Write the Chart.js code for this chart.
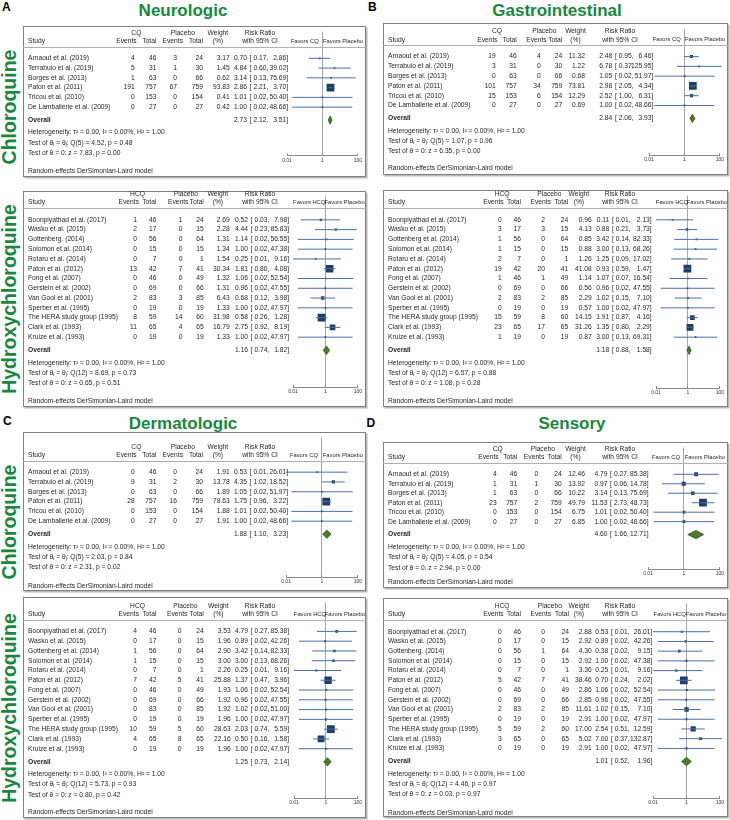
<!DOCTYPE html>
<html>
<head>
<meta charset="utf-8">
<title>CQ / HCQ adverse events</title>
<script src="https://cdn.jsdelivr.net/npm/chart.js@4.4.1/dist/chart.umd.min.js"></script>
<style>
  body { margin: 0; width: 730px; height: 820px; position: relative; overflow: hidden; background: #fff;
         font-family: "Liberation Sans", Arial, Helvetica, sans-serif; }
  .box { position: absolute; box-sizing: border-box; border: 1px solid #808080; box-shadow: 1.5px 1.5px 0 #b8b8b8; background: #fff; }
  canvas { position: absolute; }
  .title { position: absolute; font-size: 17px; line-height: 17px; font-weight: bold; color: #17893d; white-space: nowrap; transform: translateX(-50%); }
  .letter { position: absolute; font-size: 12px; line-height: 12px; font-weight: bold; color: #000; }
  .side { position: absolute; font-size: 19.5px; line-height: 20px; font-weight: bold; color: #17893d; white-space: nowrap; transform: translate(-50%, -50%) rotate(-90deg); }
</style>
</head>
<body>
<div class="letter" style="left:2px;top:1px">A</div>
<div class="letter" style="left:368px;top:0.5px">B</div>
<div class="letter" style="left:3px;top:415px">C</div>
<div class="letter" style="left:366.5px;top:416.5px">D</div>
<div class="title" style="left:183px;top:2.2px">Neurologic</div>
<div class="title" style="left:557px;top:2.2px">Gastrointestinal</div>
<div class="title" style="left:183px;top:415px">Dermatologic</div>
<div class="title" style="left:572px;top:415px">Sensory</div>
<div class="side" style="left:8.5px;top:107px">Chloroquine</div>
<div class="side" style="left:8.5px;top:299px">Hydroxychloroquine</div>
<div class="side" style="left:8.5px;top:522px">Chloroquine</div>
<div class="side" style="left:8.5px;top:707.5px">Hydroxychloroquine</div>
<script>
const FONT = '"Liberation Sans", Arial, Helvetica, sans-serif';
const TEXT = '#262626';

// studies and arm sizes
const cqStudies = ['Arnaout et al. (2019)', 'Terrabuio et al. (2019)', 'Borges et al. (2013)', 'Paton et al. (2011)', 'Tricou et al. (2010)', 'De Lamballerie et al. (2009)'];
const hcqStudiesA = ['Boonpiyathad et al. (2017)', 'Wasko et al. (2015)', 'Gottenberg. (2014)', 'Solomon et al. (2014)', 'Rotaru et al. (2014)', 'Paton et al. (2012)', 'Fong et al. (2007)', 'Gerstein et al. (2002)', 'Van Gool et al. (2001)', 'Sperber et al. (1995)', 'The HERA study group (1995)', 'Clark et al. (1993)', 'Kruize et al. (1993)'];
const hcqStudiesB = ['Boonpiyathad et al. (2017)', 'Wasko et al. (2015)', 'Gottenberg et al. (2014)', 'Solomon et al. (2014)', 'Rotaru et al. (2014)', 'Paton et al. (2012)', 'Fong et al. (2007)', 'Gerstein et al. (2002)', 'Van Gool et al. (2001)', 'Sperber et al. (1995)', 'The HERA study group (1995)', 'Clark et al. (1993)', 'Kruize et al. (1993)'];
const cqTotal = [46, 31, 63, 757, 153, 27];
const cqPlaceboTotal = [24, 30, 66, 759, 154, 27];
const hcqTotal = [46, 17, 56, 15, 7, 42, 46, 69, 83, 19, 59, 65, 19];
const hcqPlaceboTotal = [24, 15, 64, 15, 1, 41, 49, 66, 85, 19, 60, 65, 19];
const axisTicks = [0.01, 1, 100];

// A - neurologic
const neuroCqEvents = [4, 5, 1, 191, 0, 0];
const neuroCqPlEvents = [3, 1, 0, 67, 0, 0];
const neuroCqWeight = [3.17, 1.45, 0.62, 93.83, 0.41, 0.42];
const neuroCqRR = [0.70, 4.84, 3.14, 2.86, 1.01, 1.00];
const neuroCqLow = [0.17, 0.60, 0.13, 2.21, 0.02, 0.02];
const neuroCqHigh = [2.86, 39.02, 75.69, 3.70, 50.40, 48.66];
const neuroCqOverall = [2.73, 2.12, 3.51];
const neuroCqStats = ['0.00', '0.00', '1.00', '5', '4.52', '0.48', '7.83', '0.00'];

const neuroHcqEvents = [1, 2, 0, 0, 0, 13, 0, 0, 2, 0, 8, 11, 0];
const neuroHcqPlEvents = [1, 0, 0, 0, 0, 7, 0, 0, 3, 0, 14, 4, 0];
const neuroHcqWeight = [2.69, 2.28, 1.31, 1.34, 1.54, 30.34, 1.32, 1.31, 6.43, 1.33, 31.98, 16.79, 1.33];
const neuroHcqRR = [0.52, 4.44, 1.14, 1.00, 0.25, 1.81, 1.06, 0.96, 0.68, 1.00, 0.58, 2.75, 1.00];
const neuroHcqLow = [0.03, 0.23, 0.02, 0.02, 0.01, 0.80, 0.02, 0.02, 0.12, 0.02, 0.26, 0.92, 0.02];
const neuroHcqHigh = [7.98, 85.83, 56.55, 47.38, 9.16, 4.08, 52.54, 47.55, 3.98, 47.97, 1.28, 8.19, 47.97];
const neuroHcqOverall = [1.16, 0.74, 1.82];
const neuroHcqStats = ['0.00', '0.00', '1.00', '12', '8.69', '0.73', '0.65', '0.51'];

// B - gastrointestinal
const giCqEvents = [19, 3, 0, 101, 15, 0];
const giCqPlEvents = [4, 0, 0, 34, 6, 0];
const giCqWeight = [11.32, 1.22, 0.68, 73.81, 12.29, 0.69];
const giCqRR = [2.48, 6.78, 1.05, 2.98, 2.52, 1.00];
const giCqLow = [0.95, 0.37, 0.02, 2.05, 1.00, 0.02];
const giCqHigh = [6.46, 125.95, 51.97, 4.34, 6.31, 48.66];
const giCqOverall = [2.84, 2.06, 3.93];
const giCqStats = ['0.00', '0.00', '1.00', '5', '1.07', '0.96', '6.35', '0.00'];

const giHcqEvents = [0, 3, 1, 1, 2, 19, 1, 0, 2, 0, 15, 23, 1];
const giHcqPlEvents = [2, 3, 0, 0, 0, 20, 1, 0, 2, 0, 8, 17, 0];
const giHcqWeight = [0.96, 4.13, 0.85, 0.88, 1.26, 41.08, 1.14, 0.56, 2.29, 0.57, 14.15, 31.26, 0.87];
const giHcqRR = [0.11, 0.88, 3.42, 3.00, 1.25, 0.93, 1.07, 0.96, 1.02, 1.00, 1.91, 1.35, 3.00];
const giHcqLow = [0.01, 0.21, 0.14, 0.13, 0.09, 0.59, 0.07, 0.02, 0.15, 0.02, 0.87, 0.80, 0.13];
const giHcqHigh = [2.13, 3.73, 82.33, 68.26, 17.02, 1.47, 16.54, 47.55, 7.10, 47.97, 4.16, 2.29, 69.31];
const giHcqOverall = [1.18, 0.88, 1.58];
const giHcqStats = ['0.00', '0.00', '1.00', '12', '6.57', '0.88', '1.08', '0.28'];

// C - dermatologic
const dermCqEvents = [0, 9, 0, 28, 0, 0];
const dermCqPlEvents = [0, 2, 0, 16, 0, 0];
const dermCqWeight = [1.91, 13.78, 1.89, 78.63, 1.88, 1.91];
const dermCqRR = [0.53, 4.35, 1.05, 1.75, 1.01, 1.00];
const dermCqLow = [0.01, 1.02, 0.02, 0.96, 0.02, 0.02];
const dermCqHigh = [26.01, 18.52, 51.97, 3.22, 50.40, 48.66];
const dermCqOverall = [1.88, 1.10, 3.23];
const dermCqStats = ['0.00', '0.00', '1.00', '5', '2.03', '0.84', '2.31', '0.02'];

const dermHcqEvents = [4, 0, 1, 1, 0, 7, 0, 0, 0, 0, 10, 4, 0];
const dermHcqPlEvents = [0, 0, 0, 0, 0, 5, 0, 0, 0, 0, 5, 8, 0];
const dermHcqWeight = [3.53, 1.96, 2.90, 3.00, 2.26, 25.88, 1.93, 1.92, 1.92, 1.96, 28.63, 22.16, 1.96];
const dermHcqRR = [4.79, 0.89, 3.42, 3.00, 0.25, 1.37, 1.06, 0.96, 1.02, 1.00, 2.03, 0.50, 1.00];
const dermHcqLow = [0.27, 0.02, 0.14, 0.13, 0.01, 0.47, 0.02, 0.02, 0.02, 0.02, 0.74, 0.16, 0.02];
const dermHcqHigh = [85.38, 42.26, 82.33, 68.26, 9.16, 3.96, 52.54, 47.55, 51.00, 47.97, 5.59, 1.58, 47.97];
const dermHcqOverall = [1.25, 0.73, 2.14];
const dermHcqStats = ['0.00', '0.00', '1.00', '12', '5.73', '0.93', '0.80', '0.42'];

// D - sensory
const sensCqEvents = [4, 1, 1, 23, 0, 0];
const sensCqPlEvents = [0, 1, 0, 2, 0, 0];
const sensCqWeight = [12.46, 13.92, 10.22, 49.79, 6.75, 6.85];
const sensCqRR = [4.79, 0.97, 3.14, 11.53, 1.01, 1.00];
const sensCqLow = [0.27, 0.06, 0.13, 2.73, 0.02, 0.02];
const sensCqHigh = [85.38, 14.78, 75.69, 48.73, 50.40, 48.66];
const sensCqOverall = [4.60, 1.66, 12.71];
const sensCqStats = ['0.00', '0.00', '1.00', '5', '4.05', '0.54', '2.94', '0.00'];

const sensHcqEvents = [0, 0, 0, 0, 0, 5, 0, 0, 2, 0, 5, 3, 0];
const sensHcqPlEvents = [0, 0, 1, 0, 0, 7, 0, 0, 2, 0, 2, 0, 0];
const sensHcqWeight = [2.88, 2.92, 4.30, 2.92, 3.36, 38.46, 2.86, 2.85, 11.61, 2.91, 17.00, 5.02, 2.91];
const sensHcqRR = [0.53, 0.89, 0.38, 1.00, 0.25, 0.70, 1.06, 0.96, 1.02, 1.00, 2.54, 7.00, 1.00];
const sensHcqLow = [0.01, 0.02, 0.02, 0.02, 0.01, 0.24, 0.02, 0.02, 0.15, 0.02, 0.51, 0.37, 0.02];
const sensHcqHigh = [26.01, 42.26, 9.15, 47.38, 9.16, 2.02, 52.54, 47.55, 7.10, 47.97, 12.59, 132.87, 47.97];
const sensHcqOverall = [1.01, 0.52, 1.96];
const sensHcqStats = ['0.00', '0.00', '1.00', '12', '4.46', '0.97', '0.03', '0.97'];

// layout of each box: box [x,y,w,h], first row y, row step, axis y, footer y, forest x range,
// column right edges [ev, total, ev placebo, total placebo, weight, RR, upper CI]
const panels = [
  { drug: 'CQ', studies: cqStudies, ev: neuroCqEvents, tot: cqTotal, pev: neuroCqPlEvents, ptot: cqPlaceboTotal,
    w: neuroCqWeight, rr: neuroCqRR, lo: neuroCqLow, hi: neuroCqHigh, ov: neuroCqOverall, st: neuroCqStats,
    box: [23, 26, 343, 151], r0: 54, rh: 10.2, axis: 155.5, re: 171, fx: [287, 361],
    cols: [111.7, 133.4, 154, 180, 206.7, 224, 265] },
  { drug: 'HCQ', studies: hcqStudiesA, ev: neuroHcqEvents, tot: hcqTotal, pev: neuroHcqPlEvents, ptot: hcqPlaceboTotal,
    w: neuroHcqWeight, rr: neuroHcqRR, lo: neuroHcqLow, hi: neuroHcqHigh, ov: neuroHcqOverall, st: neuroHcqStats,
    box: [23, 191, 343, 216], r0: 215, rh: 10.06, axis: 387, re: 401, fx: [293, 362],
    cols: [114, 133.4, 159.4, 180.7, 206.7, 225, 266] },
  { drug: 'CQ', studies: cqStudies, ev: giCqEvents, tot: cqTotal, pev: giCqPlEvents, ptot: cqPlaceboTotal,
    w: giCqWeight, rr: giCqRR, lo: giCqLow, hi: giCqHigh, ov: giCqOverall, st: giCqStats,
    box: [383, 23, 345, 152], r0: 52.3, rh: 10.2, axis: 155, re: 168.5, fx: [649, 722],
    cols: [112.7, 133.7, 157.7, 179.3, 202, 229.3, 270.3] },
  { drug: 'HCQ', studies: hcqStudiesB, ev: giHcqEvents, tot: hcqTotal, pev: giHcqPlEvents, ptot: hcqPlaceboTotal,
    w: giHcqWeight, rr: giHcqRR, lo: giHcqLow, hi: giHcqHigh, ov: giHcqOverall, st: giHcqStats,
    box: [383, 190, 345, 217], r0: 215, rh: 10.06, axis: 388, re: 401, fx: [656, 723],
    cols: [118.7, 138, 162, 185.3, 208.7, 226.3, 268.7] },
  { drug: 'CQ', studies: cqStudies, ev: dermCqEvents, tot: cqTotal, pev: dermCqPlEvents, ptot: cqPlaceboTotal,
    w: dermCqWeight, rr: dermCqRR, lo: dermCqLow, hi: dermCqHigh, ov: dermCqOverall, st: dermCqStats,
    box: [23, 432, 343, 159], r0: 468, rh: 10.2, axis: 577, re: 586.5, fx: [286, 362],
    cols: [111.7, 133.4, 154, 180, 206.7, 224, 265] },
  { drug: 'HCQ', studies: hcqStudiesB, ev: dermHcqEvents, tot: hcqTotal, pev: dermHcqPlEvents, ptot: hcqPlaceboTotal,
    w: dermHcqWeight, rr: dermHcqRR, lo: dermHcqLow, hi: dermHcqHigh, ov: dermHcqOverall, st: dermHcqStats,
    box: [23, 597, 343, 221], r0: 626.7, rh: 10.05, axis: 798, re: 811.7, fx: [294, 361],
    cols: [114, 133.4, 158.4, 180.7, 207.7, 225, 266] },
  { drug: 'CQ', studies: cqStudies, ev: sensCqEvents, tot: cqTotal, pev: sensCqPlEvents, ptot: cqPlaceboTotal,
    w: sensCqWeight, rr: sensCqRR, lo: sensCqLow, hi: sensCqHigh, ov: sensCqOverall, st: sensCqStats,
    box: [383, 442, 345, 146], r0: 470, rh: 9.9, axis: 569, re: 581.7, fx: [648, 721],
    cols: [113.7, 134.3, 155.3, 178.7, 202, 224.5, 265.5] },
  { drug: 'HCQ', studies: hcqStudiesA, ev: sensHcqEvents, tot: hcqTotal, pev: sensHcqPlEvents, ptot: hcqPlaceboTotal,
    w: sensHcqWeight, rr: sensHcqRR, lo: sensHcqLow, hi: sensHcqHigh, ov: sensHcqOverall, st: sensHcqStats,
    box: [383, 598, 345, 219], r0: 627, rh: 10, axis: 798, re: 813, fx: [653, 723],
    cols: [118.7, 138, 162, 186, 208.7, 225.3, 269.3] }
];

function tablePlugin(p, yOverall) {
  return {
    id: 'forestTable',
    afterDraw(chart) {
      const ctx = chart.ctx, ys = chart.scales.y, xs = chart.scales.x;
      const c = p.cols, by = p.box[1];
      const y0 = p.r0 - by;
      const yH1 = y0 - 21, yH2 = y0 - 12.5, yLine = y0 - 7;
      const norm = '6.7px ' + FONT;
      const put = (s, x, y, a) => { ctx.textAlign = a || 'left'; ctx.fillText(s, x, y); };
      const rrText = (e, l, h, y) => {
        put(e.toFixed(2), c[5], y, 'right');
        put('[', c[5] + 2.6, y);
        put(l.toFixed(2) + ',', c[5] + 21.3, y, 'right');
        put(h.toFixed(2) + ']', c[6], y, 'right');
      };
      ctx.save();
      ctx.textBaseline = 'middle';
      ctx.fillStyle = TEXT;
      ctx.font = norm;

      // header
      put('Study', 5, yH2);
      const evW = ctx.measureText('Events').width;
      put('Events', c[0] + 2, yH2, 'right');
      put('Total', c[1], yH2, 'right');
      put('Events', c[2] + 6, yH2, 'right');
      put('Total', c[3], yH2, 'right');
      put(p.drug, (c[0] + 2 - evW + c[1]) / 2, yH1, 'center');
      put('Placebo', (c[2] + 6 - evW + c[3]) / 2, yH1, 'center');
      const wc = (c[4] + 183) / 2;
      put('Weight', wc, yH1, 'center');
      put('(%)', wc, yH2, 'center');
      put('Risk Ratio', 237, yH1, 'center');
      put('with 95% CI', 237, yH2, 'center');
      ctx.font = '5.8px ' + FONT;
      put('Favors ' + p.drug, xs.getPixelForValue(0.1), yH2, 'center');
      put('Favors Placebo', xs.getPixelForValue(10) + 3, yH2, 'center');
      ctx.strokeStyle = '#b0b0b0';
      ctx.lineWidth = 1;
      ctx.beginPath();
      ctx.moveTo(0, Math.round(yLine) + 0.5);
      ctx.lineTo(chart.width, Math.round(yLine) + 0.5);
      ctx.stroke();

      // study rows
      ctx.font = norm;
      p.studies.forEach((name, i) => {
        const y = ys.getPixelForValue(i);
        put(name, 5, y);
        put(String(p.ev[i]), c[0], y, 'right');
        put(String(p.tot[i]), c[1], y, 'right');
        put(String(p.pev[i]), c[2], y, 'right');
        put(String(p.ptot[i]), c[3], y, 'right');
        put(p.w[i].toFixed(2), c[4], y, 'right');
        rrText(p.rr[i], p.lo[i], p.hi[i], y);
      });

      // overall + statistics
      const yo = ys.getPixelForValue(yOverall);
      ctx.font = 'bold ' + norm;
      put('Overall', 5, yo);
      ctx.font = norm;
      rrText(p.ov[0], p.ov[1], p.ov[2], yo);
      const s = p.st;
      const yHet = yo + 12.5, yT1 = yHet + 10.3, yT2 = yT1 + 10.3;
      put('Heterogeneity: \u03c4\u00b2 = ' + s[0] + ', I\u00b2 = ' + s[1] + '%, H\u00b2 = ' + s[2], 5, yHet);
      const runs = (parts, x, y) => {
        parts.forEach(([txt, sub]) => {
          ctx.font = (sub ? '4.6px ' : '6.7px ') + FONT;
          ctx.textAlign = 'left';
          ctx.fillText(txt, x, y + (sub ? 1.6 : 0));
          x += ctx.measureText(txt).width;
        });
      };
      runs([['Test of \u03b8'], ['i', true], [' = \u03b8'], ['j', true], [': Q(' + s[3] + ') = ' + s[4] + ', p = ' + s[5]]], 5, yT1);
      ctx.font = norm;
      put('Test of \u03b8 = 0: z = ' + s[6] + ', p = ' + s[7], 5, yT2);
      put('Random-effects DerSimonian-Laird model', 5, p.re - by);
      ctx.restore();
    }
  };
}

function makeForest(p) {
  const [bx, by, bw, bh] = p.box;
  const box = document.createElement('div');
  box.className = 'box';
  Object.assign(box.style, { left: bx + 'px', top: by + 'px', width: bw + 'px', height: bh + 'px' });
  document.body.appendChild(box);
  const cv = document.createElement('canvas');
  cv.width = bw; cv.height = bh;
  Object.assign(cv.style, { left: bx + 'px', top: by + 'px', width: bw + 'px', height: bh + 'px' });
  document.body.appendChild(cv);

  const n = p.studies.length;
  const r0 = p.r0 - by, axisY = p.axis - by, AXIS_H = 9;
  const yOverall = n - 1 + 13.5 / p.rh;
  const wMax = Math.max(...p.w);

  const ci = [];
  p.rr.forEach((v, i) => { ci.push({ x: p.lo[i], y: i }, { x: p.hi[i], y: i }, { x: null, y: null }); });
  const est = p.rr.map((v, i) => ({ x: v, y: i }));
  const radius = p.w.map(w => Math.max(1.7, 7.8 * Math.sqrt(w / wMax)) / Math.SQRT2);
  const hh = 4.3 / p.rh;
  const diamond = [
    { x: p.ov[1], y: yOverall }, { x: p.ov[0], y: yOverall - hh },
    { x: p.ov[2], y: yOverall }, { x: p.ov[0], y: yOverall + hh }, { x: p.ov[1], y: yOverall }
  ];

  new Chart(cv, {
    type: 'scatter',
    data: {
      datasets: [
        { data: ci, showLine: true, borderColor: '#4d6ea5', borderWidth: 1, pointRadius: 0, pointHoverRadius: 0, spanGaps: false, clip: false },
        { data: est, pointStyle: 'rect', pointRadius: ctx => radius[ctx.dataIndex], pointHoverRadius: ctx => radius[ctx.dataIndex],
          backgroundColor: '#1d3d6d', borderColor: '#1d3d6d', borderWidth: 0 },
        { data: diamond, showLine: true, fill: 'shape', backgroundColor: '#4d7a2b', borderColor: '#30551a', borderWidth: 0.8, pointRadius: 0, pointHoverRadius: 0 }
      ]
    },
    options: {
      responsive: false,
      animation: false,
      events: [],
      layout: { padding: { left: p.fx[0] - bx, right: bx + bw - p.fx[1], top: 0, bottom: bh - axisY - AXIS_H } },
      plugins: { legend: { display: false }, tooltip: { enabled: false } },
      scales: {
        x: {
          type: 'logarithmic', min: 0.01, max: 100,
          afterBuildTicks: s => { s.ticks = axisTicks.map(v => ({ value: v })); },
          afterFit: s => { s.height = AXIS_H; },
          ticks: { autoSkip: false, maxRotation: 0, padding: 4, color: '#333', font: { size: 5, family: FONT }, callback: v => String(v) },
          grid: { color: ctx => (ctx.tick && ctx.tick.value === 1 ? '#a6a6a6' : 'rgba(0,0,0,0)'), lineWidth: 1,
                  tickLength: -2, tickColor: '#8a8a8a', drawTicks: true },
          border: { color: '#8a8a8a', width: 1 }
        },
        y: { type: 'linear', display: false, reverse: true, min: -r0 / p.rh, max: (axisY - r0) / p.rh }
      }
    },
    plugins: [tablePlugin(p, yOverall)]
  });
}

panels.forEach(makeForest);
</script>
</body>
</html>
